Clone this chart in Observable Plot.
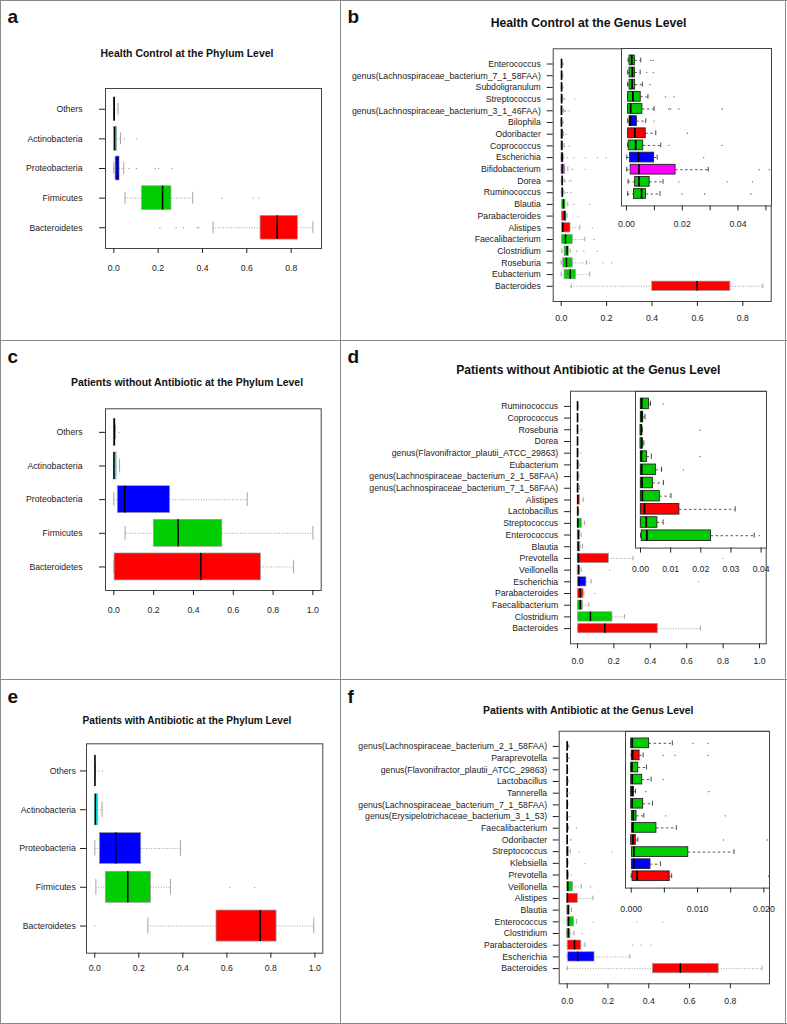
<!DOCTYPE html>
<html><head><meta charset="utf-8">
<script src="https://cdn.jsdelivr.net/npm/d3@7"></script>
<script src="https://cdn.jsdelivr.net/npm/@observablehq/plot@0.6"></script>
<style>
body{margin:0;background:#fff;}
#page{position:relative;width:787px;height:1024px;background:#fff;font-family:'Liberation Sans',Arial,Helvetica,sans-serif;overflow:hidden}
.line{position:absolute;background:#8a8a8a}
.lbl{position:absolute;font-weight:bold;font-size:19px;line-height:19px;color:#111}
.ttl{position:absolute;font-weight:bold;white-space:nowrap;color:#111;transform:translateX(-50%)}
.abs{position:absolute}
</style></head><body><div id="page"></div>
<script>
// ---------- DATA ----------
const phylumCats = ["Others","Actinobacteria","Proteobacteria","Firmicutes","Bacteroidetes"];

// a: Health Control, phylum
const aLo  = [0, 0, 0, 0.051, 0.448];
const aQ1  = [0, 0, 0.008, 0.128, 0.662];
const aMed = [0.002, 0.004, 0.017, 0.220, 0.737];
const aQ3  = [0.004, 0.015, 0.026, 0.260, 0.830];
const aHi  = [0.019, 0.030, 0.045, 0.356, 0.898];
const aOut = [[], [0.048, 0.102], [0.068, 0.102, 0.188, 0.203, 0.263], [0.487, 0.627, 0.654], [0.208, 0.281, 0.314, 0.376, 0.383]];

// c: Patients without antibiotic, phylum
const cLo  = [0, 0, 0, 0.057, 0];
const cQ1  = [0, 0, 0.020, 0.201, 0.004];
const cMed = [0.003, 0.001, 0.055, 0.323, 0.437];
const cQ3  = [0.006, 0.014, 0.283, 0.545, 0.739];
const cHi  = [0.008, 0.029, 0.670, 1.0, 0.903];
const cOut = [[0.025], [], [], [], []];

// e: Patients with antibiotic, phylum
const eLo  = [0, 0, 0, 0.005, 0.241];
const eQ1  = [0, 0, 0.023, 0.050, 0.553];
const eMed = [0.001, 0.003, 0.095, 0.150, 0.752];
const eQ3  = [0.002, 0.015, 0.211, 0.255, 0.826];
const eHi  = [0.002, 0.033, 0.389, 0.344, 0.995];
const eOut = [[0.018, 0.035], [], [], [0.614, 0.726], [0.0]];

// b: Health Control, genus
const bCats = ["Enterococcus","genus(Lachnospiraceae_bacterium_7_1_58FAA)","Subdoligranulum","Streptococcus","genus(Lachnospiraceae_bacterium_3_1_46FAA)","Bilophila","Odoribacter","Coprococcus","Escherichia","Bifidobacterium","Dorea","Ruminococcus","Blautia","Parabacteroides","Alistipes","Faecalibacterium","Clostridium","Roseburia","Eubacterium","Bacteroides"];
const bPhyla = ["Firmicutes","Firmicutes","Firmicutes","Firmicutes","Firmicutes","Proteobacteria","Bacteroidetes","Firmicutes","Proteobacteria","Actinobacteria","Firmicutes","Firmicutes","Firmicutes","Bacteroidetes","Bacteroidetes","Firmicutes","Firmicutes","Firmicutes","Firmicutes","Bacteroidetes"];
const bLo  = [0.0006,0.0004,0.0004,0.0004,0.0004,0.0004,0.0006,0.0004,0.0001,0.0001,0.0006,0.0004, 0.002,0.003,0.002,0.002,0.003,0,0,0.044];
const bQ1  = [0.0011,0.0011,0.0011,0.0006,0.0006,0.0011,0.0006,0.0008,0.0013,0.0015,0.0031,0.0027, 0.004,0.004,0.004,0.004,0.015,0.009,0.015,0.401];
const bMed = [0.0019,0.0021,0.0020,0.0023,0.0015,0.0013,0.0030,0.0033,0.0043,0.0045,0.0045,0.0054, 0.010,0.015,0.007,0.019,0.026,0.023,0.040,0.598];
const bQ3  = [0.0030,0.0030,0.0031,0.0051,0.0057,0.0037,0.0069,0.0060,0.0099,0.0176,0.0083,0.0070, 0.019,0.023,0.041,0.051,0.035,0.051,0.065,0.745];
const bHi  = [0.0051,0.0049,0.0057,0.0077,0.0099,0.0069,0.0105,0.0123,0.0110,0.0293,0.0131,0.0120, 0.029,0.026,0.082,0.104,0.040,0.112,0.126,0.888];
const bOut = [[0.0087,0.0095],[0.0073,0.0096],[0.0085],[0.014,0.017,0.06],[0.0152,0.0158,0.0188,0.0343],[0.0099],[0.0218],[0.0152,0.0343],[0.0277,0.056,0.107,0.159,0.198],[0.0476,0.0512,0.107],[0.0188,0.0361,0.0452],[0.0199,0.028,0.0446],[0.056,0.125],[0.075],[0.137],[0.144],[0.068,0.1,0.159],[0.126,0.185,0.222],[],[]];

// d: Patients without antibiotic, genus
const dCats = ["Ruminococcus","Coprococcus","Roseburia","Dorea","genus(Flavonifractor_plautii_ATCC_29863)","Eubacterium","genus(Lachnospiraceae_bacterium_2_1_58FAA)","genus(Lachnospiraceae_bacterium_7_1_58FAA)","Alistipes","Lactobacillus","Streptococcus","Enterococcus","Blautia","Prevotella","Veillonella","Escherichia","Parabacteroides","Faecalibacterium","Clostridium","Bacteroides"];
const dPhyla = ["Firmicutes","Firmicutes","Firmicutes","Firmicutes","Firmicutes","Firmicutes","Firmicutes","Firmicutes","Bacteroidetes","Firmicutes","Firmicutes","Firmicutes","Firmicutes","Bacteroidetes","Firmicutes","Proteobacteria","Bacteroidetes","Firmicutes","Firmicutes","Bacteroidetes"];
const dLo  = [0,0,0,0,0,0,0,0,0,0,0, 0,0,0,0,0,0,0,0,0];
const dQ1  = [0.0001,0.0001,0,0,0.0001,0.0001,0.0001,0.0001,0.0001,0.0001,0.0004, 0.001,0.001,0.001,0.001,0.002,0.002,0.002,0.004,0.004];
const dMed = [0.0004,0.0004,0.0003,0.0004,0.0003,0.0004,0.0005,0.0006,0.0013,0.0019,0.0021, 0.005,0.004,0.005,0.006,0.009,0.015,0.015,0.071,0.150];
const dQ3  = [0.0028,0.0009,0.0005,0.0007,0.0022,0.0051,0.0041,0.0064,0.0129,0.0056,0.0234, 0.013,0.016,0.172,0.013,0.049,0.033,0.029,0.192,0.441];
const dHi  = [0.0033,0.0015,0.0006,0.0011,0.0036,0.0070,0.0076,0.0101,0.0314,0.0075,0.0377, 0.020,0.027,0.305,0.020,0.075,0.035,0.062,0.258,0.675];
const dOut = [[0.0075],[],[0.0198],[],[0.0198],[0.0142],[],[],[],[],[0.0394], [],[],[0.80],[0.177],[0.665],[0.095],[],[],[]];

// f: Patients with antibiotic, genus
const fCats = ["genus(Lachnospiraceae_bacterium_2_1_58FAA)","Paraprevotella","genus(Flavonifractor_plautii_ATCC_29863)","Lactobacillus","Tannerella","genus(Lachnospiraceae_bacterium_7_1_58FAA)","genus(Erysipelotrichaceae_bacterium_3_1_53)","Faecalibacterium","Odoribacter","Streptococcus","Klebsiella","Prevotella","Veillonella","Alistipes","Blautia","Enterococcus","Clostridium","Parabacteroides","Escherichia","Bacteroides"];
const fPhyla = ["Firmicutes","Bacteroidetes","Firmicutes","Firmicutes","Bacteroidetes","Firmicutes","Firmicutes","Firmicutes","Bacteroidetes","Firmicutes","Proteobacteria","Bacteroidetes","Firmicutes","Bacteroidetes","Firmicutes","Firmicutes","Firmicutes","Bacteroidetes","Proteobacteria","Bacteroidetes"];
const fLo  = [0,0,0,0,0,0,0.0001,0.0001,0,0.0001,0.0001,0, 0,0,0,0,0,0,0,0];
const fQ1  = [0,0.0001,0,0,0,0,0.0001,0.0001,0,0.0001,0.0001,0.0002, 0,0,0,0.002,0,0.003,0.005,0.420];
const fMed = [0.00015,0.0002,0.0001,0.00015,0.00015,0.00015,0.0003,0.00025,0.00025,0.0004,0.0004,0.0009, 0.003,0.001,0.005,0.0065,0.006,0.036,0.052,0.555];
const fQ3  = [0.0027,0.00126,0.00106,0.00166,0.0004,0.0018,0.0008,0.0038,0.0007,0.0086,0.0029,0.0058, 0.029,0.052,0.013,0.033,0.016,0.069,0.134,0.743];
const fHi  = [0.0062,0.0018,0.0023,0.0030,0.00065,0.0032,0.0019,0.0068,0.0010,0.0155,0.0044,0.0061, 0.069,0.126,0.021,0.046,0.033,0.087,0.307,0.955];
const fOut = [[0.0093,0.0116],[0.0048,0.0066,0.0116],[],[0.0048],[0.0022,0.0117],[],[0.0052,0.0142],[0.046],[0.0139,0.0205],[0.06,0.22],[0.087],[0.0207],[0.114],[],[],[0.126,0.34,0.469],[0.073],[0.322,0.362,0.411],[],[]];

const mainTicks08 = [0, 0.2, 0.4, 0.6, 0.8];
const mainTicks10 = [0, 0.2, 0.4, 0.6, 0.8, 1.0];
const bInsetTicks = [0, 0.01, 0.02, 0.03, 0.04, 0.05];
const bInsetLabels = [0, 0.02, 0.04];
const dInsetTicks = [0, 0.01, 0.02, 0.03, 0.04];
const dInsetLabels = [0, 0.01, 0.02, 0.03, 0.04];
const fInsetTicks = [0, 0.005, 0.01, 0.015, 0.02];
const fInsetLabels = [0, 0.01, 0.02];

const titles = {
  a: "Health Control at the Phylum Level",
  b: "Health Control at the Genus Level",
  c: "Patients without Antibiotic at the Phylum Level",
  d: "Patients without Antibiotic at the Genus Level",
  e: "Patients with Antibiotic at the Phylum Level",
  f: "Patients with Antibiotic at the Genus Level"
};

// ---------- STYLE / LAYOUT ----------
const font = "'Liberation Sans', Arial, Helvetica, sans-serif";
const phylumDomain = ["Bacteroidetes","Firmicutes","Proteobacteria","Actinobacteria","Others"];
const phylumColors = ["#FF0000","#00CD00","#0000FF","#00FFFF","#000000"];
const genusColors  = ["#FF0000","#00CD00","#0000FF","#FF00FF","#000000"];

const page = document.getElementById("page");

function makeRows(cats, phyla, lo, q1, med, q3, hi, m) {
  const n = m ?? cats.length;
  return cats.slice(0, n).map((c, i) => ({cat: c, phylum: phyla[i], pos: n - i, lo: lo[i], q1: q1[i], med: med[i], q3: q3[i], hi: hi[i]}));
}
function makeOuts(out, m) {
  const n = m ?? out.length;
  return out.slice(0, n).flatMap((arr, i) => arr.map(v => ({v, pos: n - i})));
}
function boxMarks(rows, outs, st) {
  const c = st.clip;
  return [
    Plot.ruleY(rows, {y: "pos", x1: "lo", x2: "q1", stroke: st.wh, strokeWidth: st.whw, strokeDasharray: st.dash, clip: c}),
    Plot.ruleY(rows, {y: "pos", x1: "q3", x2: "hi", stroke: st.wh, strokeWidth: st.whw, strokeDasharray: st.dash, clip: c}),
    Plot.ruleX(rows, {x: "lo", y1: d => d.pos - 0.2, y2: d => d.pos + 0.2, stroke: st.staple, strokeWidth: 0.9, clip: c}),
    Plot.ruleX(rows, {x: "hi", y1: d => d.pos - 0.2, y2: d => d.pos + 0.2, stroke: st.staple, strokeWidth: 0.9, clip: c}),
    Plot.rect(rows, {x1: "q1", x2: "q3", y1: d => d.pos - 0.4, y2: d => d.pos + 0.4, fill: "phylum", stroke: st.box, strokeWidth: st.bw, clip: c}),
    Plot.ruleX(rows, {x: "med", y1: d => d.pos - 0.4, y2: d => d.pos + 0.4, stroke: "#000", strokeWidth: st.mw, clip: c}),
    Plot.dot(outs, {x: "v", y: "pos", r: st.r, fill: st.of, stroke: null, clip: true})
  ];
}
const mainStyle  = {wh: "#9a9a9a", whw: 0.9, dash: "1,1.6", staple: "#9a9a9a", box: "#9a9a9a", bw: 0.7, mw: 1.5, r: 0.65, of: "#9a9a9a", clip: false};
const insetStyle = {wh: "#444", whw: 0.9, dash: "2.5,2.5", staple: "#333", box: "#222", bw: 0.9, mw: 1.8, r: 0.65, of: "#555", clip: true};

function addBorder(x, y, w, h) {
  const d = document.createElement("div");
  d.className = "line";
  Object.assign(d.style, {left: x + "px", top: y + "px", width: w + "px", height: h + "px"});
  page.appendChild(d);
}
function addText(cls, txt, left, top, size) {
  const d = document.createElement("div");
  d.className = cls;
  d.textContent = txt;
  d.style.left = left + "px";
  d.style.top = top + "px";
  if (size) { d.style.fontSize = size + "px"; d.style.lineHeight = size + "px"; }
  page.appendChild(d);
}
function place(svg, left, top) {
  svg.classList.add("abs");
  svg.style.left = left + "px";
  svg.style.top = top + "px";
  page.appendChild(svg);
}

function mainPlot(cfg) {
  const n = cfg.cats.length;
  const rows = makeRows(cfg.cats, cfg.phyla, cfg.lo, cfg.q1, cfg.med, cfg.q3, cfg.hi);
  const outs = makeOuts(cfg.out);
  const names = new Map(rows.map(r => [r.pos, r.cat]));
  const [L, T, R, B] = cfg.frame;
  const svg = Plot.plot({
    width: cfg.pw, height: cfg.ph,
    marginLeft: L - cfg.px, marginTop: T - cfg.py,
    marginRight: cfg.px + cfg.pw - R, marginBottom: cfg.py + cfg.ph - B,
    x: {domain: cfg.xdom, label: null},
    y: {domain: [0.5 - 0.04 * n, n + 0.5 + 0.04 * n], label: null},
    color: {domain: phylumDomain, range: cfg.colors},
    style: {fontFamily: font, fontSize: "8.7px", color: "#222", background: "transparent", overflow: "visible"},
    marks: [
      Plot.frame({stroke: "#444", strokeWidth: 1}),
      Plot.axisX({ticks: cfg.xticks, tickFormat: d3.format(".1f"), tickSize: 5, tickPadding: cfg.xpad, label: null}),
      Plot.axisY({ticks: rows.map(r => r.pos), tickFormat: p => names.get(p), tickSize: 6, tickPadding: cfg.ypad, label: null}),
      ...boxMarks(rows, outs, mainStyle)
    ]
  });
  place(svg, cfg.px, cfg.py);
}

function insetPlot(cfg) {
  const m = cfg.m;
  const rows = makeRows(cfg.cats, cfg.phyla, cfg.lo, cfg.q1, cfg.med, cfg.q3, cfg.hi, m);
  const outs = makeOuts(cfg.out, m);
  const [L, T, R, B] = cfg.frame;
  const pad = 1, mb = 32;
  const fmt = d3.format(cfg.fmt);
  const svg = Plot.plot({
    width: R - L + 2 * pad, height: B - T + pad + mb,
    marginLeft: pad, marginRight: pad, marginTop: pad, marginBottom: mb,
    x: {domain: cfg.xdom, label: null},
    y: {domain: [0.5 - 0.04 * m, m + 0.5 + 0.04 * m], label: null, axis: null},
    color: {domain: phylumDomain, range: genusColors},
    style: {fontFamily: font, fontSize: "8.7px", color: "#222", background: "transparent", overflow: "visible"},
    marks: [
      Plot.frame({fill: "white", stroke: "#444", strokeWidth: 1}),
      Plot.axisX({ticks: cfg.ticks, tickFormat: d => cfg.labels.includes(d) ? fmt(d) : "", tickSize: 5, tickPadding: cfg.xpad, label: null}),
      ...boxMarks(rows, outs, insetStyle)
    ]
  });
  place(svg, L - pad, T - pad);
}

// panels
const P = {
  a: {px: 0,   py: 0,   pw: 340, ph: 340},
  b: {px: 340, py: 0,   pw: 447, ph: 340},
  c: {px: 0,   py: 340, pw: 340, ph: 340},
  d: {px: 340, py: 340, pw: 447, ph: 340},
  e: {px: 0,   py: 680, pw: 340, ph: 344},
  f: {px: 340, py: 680, pw: 447, ph: 344}
};

mainPlot({...P.a, cats: phylumCats, phyla: phylumCats, lo: aLo, q1: aQ1, med: aMed, q3: aQ3, hi: aHi, out: aOut,
  frame: [105, 88, 321, 248], xdom: [-0.0374, 0.9368], xticks: mainTicks08, xpad: 11.5, ypad: 17, colors: phylumColors});
mainPlot({...P.c, cats: phylumCats, phyla: phylumCats, lo: cLo, q1: cQ1, med: cMed, q3: cQ3, hi: cHi, out: cOut,
  frame: [105, 408.3, 320.7, 590], xdom: [-0.0417, 1.0417], xticks: mainTicks10, xpad: 11.5, ypad: 17, colors: phylumColors});
mainPlot({...P.e, cats: phylumCats, phyla: phylumCats, lo: eLo, q1: eQ1, med: eMed, q3: eQ3, hi: eHi, out: eOut,
  frame: [86, 743.3, 322.3, 952.7], xdom: [-0.0377, 1.036], xticks: mainTicks10, xpad: 6.6, ypad: 4.7, colors: phylumColors});

mainPlot({...P.b, cats: bCats, phyla: bPhyla, lo: bLo, q1: bQ1, med: bMed, q3: bQ3, hi: bHi, out: bOut,
  frame: [552.7, 48.3, 770.7, 301], xdom: [-0.0352, 0.925], xticks: mainTicks08, xpad: 8.6, ypad: 6.4, colors: genusColors});
mainPlot({...P.d, cats: dCats, phyla: dPhyla, lo: dLo, q1: dQ1, med: dMed, q3: dQ3, hi: dHi, out: dOut,
  frame: [570, 390.7, 765.7, 643.3], xdom: [-0.0385, 1.0368], xticks: mainTicks10, xpad: 9.4, ypad: 6.3, colors: genusColors});
mainPlot({...P.f, cats: fCats, phyla: fPhyla, lo: fLo, q1: fQ1, med: fMed, q3: fQ3, hi: fHi, out: fOut,
  frame: [558.7, 730.7, 769, 983.3], xdom: [-0.0392, 0.992], xticks: mainTicks08, xpad: 9.4, ypad: 6, colors: genusColors});

insetPlot({cats: bCats, phyla: bPhyla, lo: bLo, q1: bQ1, med: bMed, q3: bQ3, hi: bHi, out: bOut, m: 12,
  frame: [620.7, 48.3, 770.7, 205.7], xdom: [-0.00179, 0.0520], ticks: bInsetTicks, labels: bInsetLabels, fmt: ".2f", xpad: 10});
insetPlot({cats: dCats, phyla: dPhyla, lo: dLo, q1: dQ1, med: dMed, q3: dQ3, hi: dHi, out: dOut, m: 11,
  frame: [634.7, 390.7, 765.7, 547.3], xdom: [-0.00166, 0.04179], ticks: dInsetTicks, labels: dInsetLabels, fmt: ".2f", xpad: 12.7});
insetPlot({cats: fCats, phyla: fPhyla, lo: fLo, q1: fQ1, med: fMed, q3: fQ3, hi: fHi, out: fOut, m: 12,
  frame: [625, 730.7, 769, 887.3], xdom: [-0.00086, 0.02085], ticks: fInsetTicks, labels: fInsetLabels, fmt: ".3f", xpad: 12.7});

// titles (center x, baseline y, size)
const titlePos = {a: [187, 57.5, 10.45], b: [588.5, 27.7, 12.2], c: [187, 386.8, 10.44], d: [588.3, 374.7, 12.17], e: [187, 724.5, 10.1], f: [588.3, 714.8, 10.43]};
for (const k of Object.keys(titles)) {
  const [cx, base, s] = titlePos[k];
  addText("ttl", titles[k], cx, base - 0.8465 * s, s);
  addText("lbl", k, P[k].px + 7.5, P[k].py + 23.3 - 0.8465 * 19);
}

// panel borders
addBorder(0, 0, 787, 1.3);
addBorder(0, 0, 1.3, 1024);
addBorder(784.6, 0, 1.5, 1024);
addBorder(0, 1022.6, 787, 1.4);
addBorder(339.5, 0, 1.3, 1024);
addBorder(0, 339.5, 787, 1.3);
addBorder(0, 678.8, 787, 1.3);
</script></body></html>
